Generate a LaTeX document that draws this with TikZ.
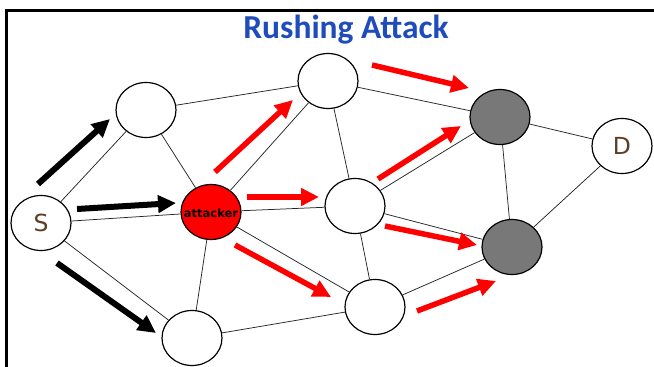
\documentclass[tikz,border=0pt]{standalone}
\usepackage{fontspec}
\setmainfont{DejaVu Sans}
\newfontfamily\titlefont{Carlito}
\usetikzlibrary{shapes.geometric,arrows.meta}
\definecolor{titleblue}{RGB}{30,76,186}
\definecolor{labelbrown}{RGB}{92,62,36}
\definecolor{nodegray}{RGB}{120,120,120}
\tikzset{
  peer/.style={ellipse,draw=black,line width=1.2pt,fill=white,
    minimum width=60pt,minimum height=55pt,inner sep=0pt},
  endpoint/.style={peer,text=labelbrown,font=\fontsize{23.5}{23.5}\selectfont},
  colluder/.style={peer,fill=nodegray},
  rogue/.style={peer,fill=red},
  roguetag/.style={inner sep=0pt,font=\bfseries\fontsize{11.5}{11.5}\selectfont},
  link/.style={line width=0.75pt,draw=black!85},
  flowarrow/.style={line width=6pt,-{Triangle[length=18pt,width=17pt]}},
  blackflow/.style={flowarrow,draw=black},
  redflow/.style={flowarrow,draw=red,line width=5.5pt},
}
\begin{document}
\begin{tikzpicture}[x=1pt,y=-1pt]
\useasboundingbox (0,0) rectangle (654,367);
% frame
\draw[line width=2.8pt] (6.5,367) -- (6.5,10.5) -- (654,10.5);
% title
\node[anchor=base,text=titleblue,font=\titlefont\bfseries\fontsize{33.5}{33.5}\selectfont] (title) at (346,38) {Rushing Attack};
% nodes
\node[endpoint] (S) at (41,223) {S};
\node[peer] (n1) at (146,110) {};
\node[rogue] (att) at (211,212) {};
\node[roguetag] (atttag) at (211,213) {attacker};
\node[peer] (nb) at (192,338) {};
\node[peer] (nt) at (328,81) {};
\node[peer] (m) at (355,206) {};
\node[peer] (bm) at (375,307) {};
\node[colluder] (g1) at (500,117) {};
\node[colluder] (g2) at (512,247) {};
\node[endpoint] (D) at (622,146) {D};
% links between peers
\draw[link] (S) -- (n1);
\draw[link] (S) -- (att);
\draw[link] (S) -- (nb);
\draw[link] (n1) -- (nt);
\draw[link] (n1) -- (att);
\draw[link] (att) -- (nt);
\draw[link] (att) -- (m);
\draw[link] (att) -- (nb);
\draw[link] (att) -- (bm);
\draw[link] (nb) -- (bm);
\draw[link] (nt) -- (m);
\draw[link] (nt) -- (g1);
\draw[link] (m) -- (g1);
\draw[link] (m) -- (g2);
\draw[link] (m) -- (bm);
\draw[link] (g1) -- (g2);
\draw[link] (g1) -- (D);
\draw[link] (g2) -- (D);
\draw[link] (bm) -- (g2);
% flow arrows
\coordinate (b1s) at (38,184);  \coordinate (b1e) at (110,119);
\coordinate (b2s) at (77,209);  \coordinate (b2e) at (176,203);
\coordinate (b3s) at (57,263);  \coordinate (b3e) at (156,333);
\coordinate (r1s) at (215,172); \coordinate (r1e) at (293,100);
\coordinate (r2s) at (372,65);  \coordinate (r2e) at (469,88);
\coordinate (r3s) at (247,197); \coordinate (r3e) at (319,197);
\coordinate (r4s) at (235,245); \coordinate (r4e) at (331,297);
\coordinate (r5s) at (378,179); \coordinate (r5e) at (461,126);
\coordinate (r6s) at (385,226); \coordinate (r6e) at (477,245);
\coordinate (r7s) at (417,311); \coordinate (r7e) at (496,281);
\draw[blackflow] (b1s) -- (b1e);
\draw[blackflow] (b2s) -- (b2e);
\draw[blackflow] (b3s) -- (b3e);
\draw[redflow] (r1s) -- (r1e);
\draw[redflow] (r2s) -- (r2e);
\draw[redflow] (r3s) -- (r3e);
\draw[redflow] (r4s) -- (r4e);
\draw[redflow] (r5s) -- (r5e);
\draw[redflow] (r6s) -- (r6e);
\draw[redflow] (r7s) -- (r7e);
\end{tikzpicture}
\end{document}
